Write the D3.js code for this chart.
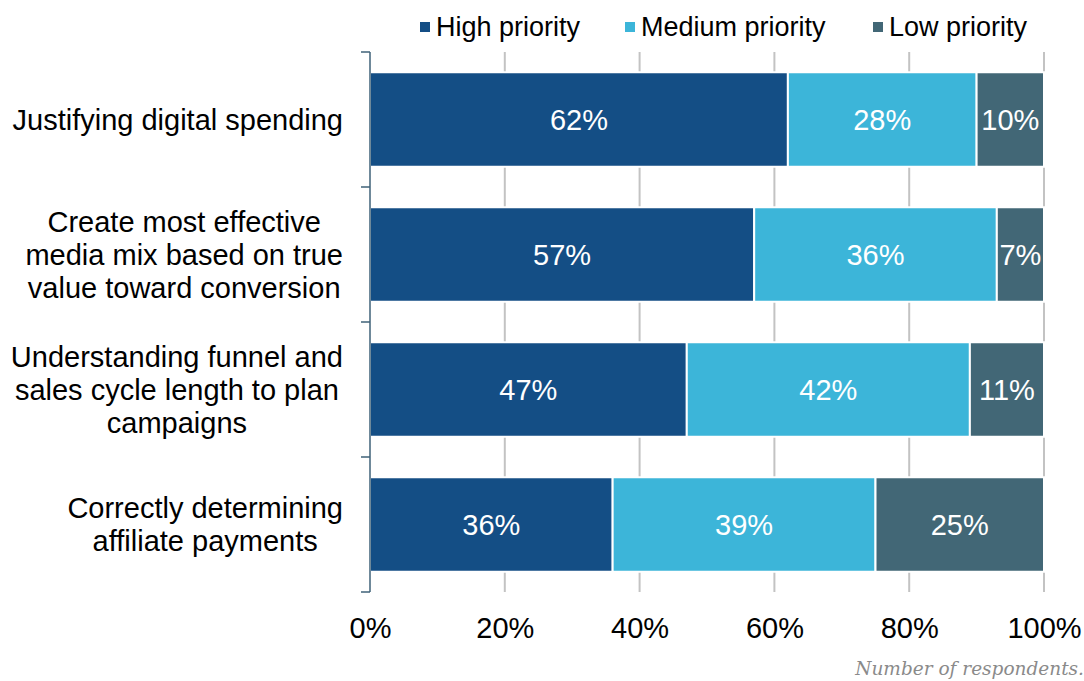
<!DOCTYPE html>
<html>
<head>
<meta charset="utf-8">
<script src="https://cdn.jsdelivr.net/npm/d3@7"></script>
<style>
  body { margin: 0; background: #fff; }
  svg { display: block; font-family: "Liberation Sans", Arial, sans-serif; }
</style>
</head>
<body>
<div id="vis"></div>
<script>
const FRAME_WIDTH = 1084;
const FRAME_HEIGHT = 681;
const MARGINS = {left: 370, right: 40, top: 52, bottom: 89};

// chart data
const categories = [
  ["Justifying digital spending"],
  ["Create most effective", "media mix based on true", "value toward conversion"],
  ["Understanding funnel and", "sales cycle length to plan", "campaigns"],
  ["Correctly determining", "affiliate payments"]
];
const seriesNames = ["High priority", "Medium priority", "Low priority"];
const highValues = [62, 57, 47, 36];
const mediumValues = [28, 36, 42, 39];
const lowValues = [10, 7, 11, 25];
const tickValues = [0, 20, 40, 60, 80, 100];
const colors = ["#144e85", "#3cb5d9", "#426776"];

const rows = categories.map((c, i) => ({
  key: i,
  "High priority": highValues[i],
  "Medium priority": mediumValues[i],
  "Low priority": lowValues[i]
}));

const svg = d3.select("#vis").append("svg")
  .attr("width", FRAME_WIDTH)
  .attr("height", FRAME_HEIGHT);

const X_SCALE = d3.scaleLinear()
  .domain([0, 100])
  .range([MARGINS.left, FRAME_WIDTH - MARGINS.right]);

const Y_SCALE = d3.scaleBand()
  .domain(rows.map(d => d.key))
  .range([MARGINS.top, FRAME_HEIGHT - MARGINS.bottom])
  .paddingInner(0.3)
  .paddingOuter(0.15);

// vertical gridlines (behind bars)
svg.append("g")
  .selectAll("line")
  .data(tickValues.filter(t => t > 0))
  .enter().append("line")
    .attr("x1", d => X_SCALE(d))
    .attr("x2", d => X_SCALE(d))
    .attr("y1", MARGINS.top)
    .attr("y2", FRAME_HEIGHT - MARGINS.bottom)
    .attr("stroke", "#c3c3c3")
    .attr("stroke-width", 2);

// stacked bars
const stacked = d3.stack().keys(seriesNames)(rows);

const layers = svg.append("g")
  .selectAll("g")
  .data(stacked)
  .enter().append("g")
    .attr("fill", (d, i) => colors[i]);

layers.selectAll("rect")
  .data(d => d)
  .enter().append("rect")
    .attr("x", d => X_SCALE(d[0]))
    .attr("y", d => Y_SCALE(d.data.key))
    .attr("width", d => X_SCALE(d[1]) - X_SCALE(d[0]))
    .attr("height", Y_SCALE.bandwidth())
    .attr("stroke", "#fff")
    .attr("stroke-width", 2);

// value labels
layers.selectAll("text")
  .data(d => d)
  .enter().append("text")
    .attr("x", d => (X_SCALE(d[0]) + X_SCALE(d[1])) / 2)
    .attr("y", d => Y_SCALE(d.data.key) + Y_SCALE.bandwidth() / 2)
    .attr("dy", "0.35em")
    .attr("text-anchor", "middle")
    .attr("fill", "#fff")
    .attr("font-size", "29px")
    .text(d => (d[1] - d[0]) + "%");

// left axis with outward ticks at band boundaries
const axisColor = "#3f6278";
const bounds = rows.map(d => Y_SCALE(d.key) - Y_SCALE.step() * 0.15)
  .concat([FRAME_HEIGHT - MARGINS.bottom]);
svg.append("line")
  .attr("x1", MARGINS.left).attr("x2", MARGINS.left)
  .attr("y1", MARGINS.top).attr("y2", FRAME_HEIGHT - MARGINS.bottom)
  .attr("stroke", axisColor).attr("stroke-width", 1.5);
svg.append("g")
  .selectAll("line")
  .data(bounds)
  .enter().append("line")
    .attr("x1", MARGINS.left - 9).attr("x2", MARGINS.left)
    .attr("y1", d => d).attr("y2", d => d)
    .attr("stroke", axisColor).attr("stroke-width", 1.5);

// bottom tick labels
const xAxis = svg.append("g")
  .attr("transform", "translate(0," + (FRAME_HEIGHT - MARGINS.bottom) + ")")
  .call(d3.axisBottom(X_SCALE).tickValues(tickValues).tickFormat(d => d + "%").tickSize(0).tickPadding(25));
xAxis.select(".domain").remove();
xAxis.selectAll("text")
  .attr("font-family", "Liberation Sans, Arial, sans-serif")
  .attr("font-size", "29px")
  .attr("fill", "#000");

// category labels: lines centred within a block that is right-aligned
const labelRight = 343;
const lineHeight = 33;
categories.forEach((lines, i) => {
  const cy = Y_SCALE(i) + Y_SCALE.bandwidth() / 2;
  const t = svg.append("text")
    .attr("font-size", "29px")
    .attr("fill", "#000")
    .attr("text-anchor", "middle");
  const spans = lines.map((line, j) => t.append("tspan")
    .attr("y", cy + (j - (lines.length - 1) / 2) * lineHeight)
    .attr("dy", "0.35em")
    .text(line));
  const maxW = d3.max(spans, s => s.node().getComputedTextLength());
  spans.forEach(s => s.attr("x", labelRight - maxW / 2));
});

// legend
const legendX = [420, 625, 873];
const legend = svg.append("g")
  .selectAll("g")
  .data(seriesNames)
  .enter().append("g")
    .attr("transform", (d, i) => "translate(" + legendX[i] + ",27)");
legend.append("rect")
  .attr("x", 0).attr("y", -5)
  .attr("width", 10).attr("height", 10)
  .attr("fill", (d, i) => colors[i]);
legend.append("text")
  .attr("x", 16)
  .attr("dy", "0.35em")
  .attr("font-size", "27px")
  .attr("fill", "#000")
  .text(d => d);

// footnote
svg.append("text")
  .attr("x", 1084)
  .attr("y", 675)
  .attr("text-anchor", "end")
  .attr("font-family", "DejaVu Serif, serif")
  .attr("font-style", "italic")
  .attr("font-size", "18.5px")
  .attr("fill", "#8a8a8a")
  .text("Number of respondents.");
</script>
</body>
</html>
